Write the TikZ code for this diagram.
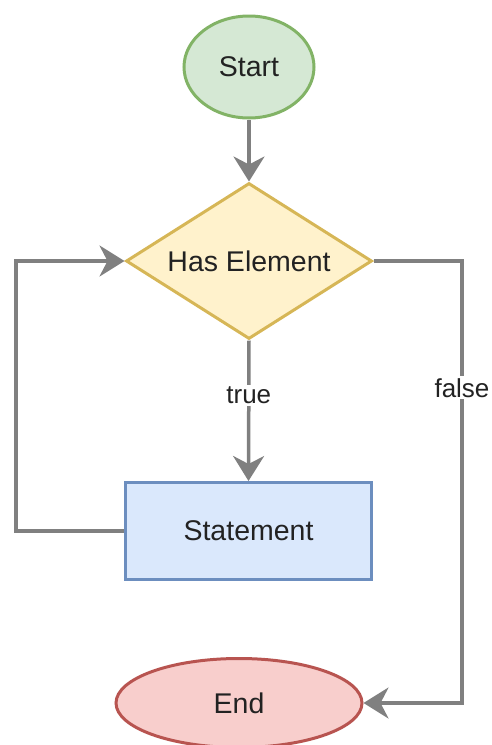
\documentclass[tikz,border=0pt]{standalone}
\usepackage{fontspec}
\setmainfont{Liberation Sans}
\usetikzlibrary{shapes.geometric,arrows.meta}
\definecolor{gfill}{HTML}{D5E8D4}\definecolor{gline}{HTML}{82B366}
\definecolor{yfill}{HTML}{FFF2CC}\definecolor{yline}{HTML}{D6B656}
\definecolor{bfill}{HTML}{DAE8FC}\definecolor{bline}{HTML}{6C8EBF}
\definecolor{rfill}{HTML}{F8CECC}\definecolor{rline}{HTML}{B85450}
\definecolor{arr}{HTML}{808080}
\definecolor{txt}{HTML}{222222}
\tikzset{
  x=1pt, y=-1pt,
  shapebase/.style={line width=3pt, inner sep=0pt, font=\fontsize{28.5}{34}\selectfont, text=txt},
  startbox/.style={shapebase, ellipse, draw=gline, fill=gfill, minimum width=130pt, minimum height=102pt},
  decbox/.style={shapebase, diamond, aspect=1.58, draw=yline, fill=yfill, minimum width=246pt, minimum height=156pt},
  stmtbox/.style={shapebase, rectangle, draw=bline, fill=bfill, minimum width=246pt, minimum height=97pt},
  endbox/.style={shapebase, ellipse, draw=rline, fill=rfill, minimum width=246pt, minimum height=89pt},
  flow/.style={draw=arr, line width=3.5pt, -{Stealth[length=25pt, width=31pt, inset=8pt]}},
  lbl/.style={fill=white, inner sep=2pt, font=\fontsize{26}{30}\selectfont, text=txt},
}
\begin{document}
\begin{tikzpicture}
\useasboundingbox (0,0) rectangle (491,745);
\clip (0,0) rectangle (491,745);
\node[startbox] (start) at (249,67) {Start};
\node[decbox] (dec) at (249,261) {Has Element};
\node[stmtbox] (stmt) at (248.5,531) {Statement};
\node[endbox] (end) at (239,703) {End};
\coordinate (la) at (16,531);
\coordinate (lb) at (16,261);
\coordinate (fa) at (462,261);
\coordinate (fb) at (462,703);
\draw[flow] (start) -- (dec);
\draw[flow] (dec.south) -- node[lbl, pos=0.39] {true} (stmt.north);
\draw[flow] (stmt.west) -- (la) -- (lb) -- (dec.west);
\draw[flow] (dec.east) -- (fa) -- node[lbl, pos=0.287] {false} (fb) -- (end.east);
\end{tikzpicture}
\end{document}
